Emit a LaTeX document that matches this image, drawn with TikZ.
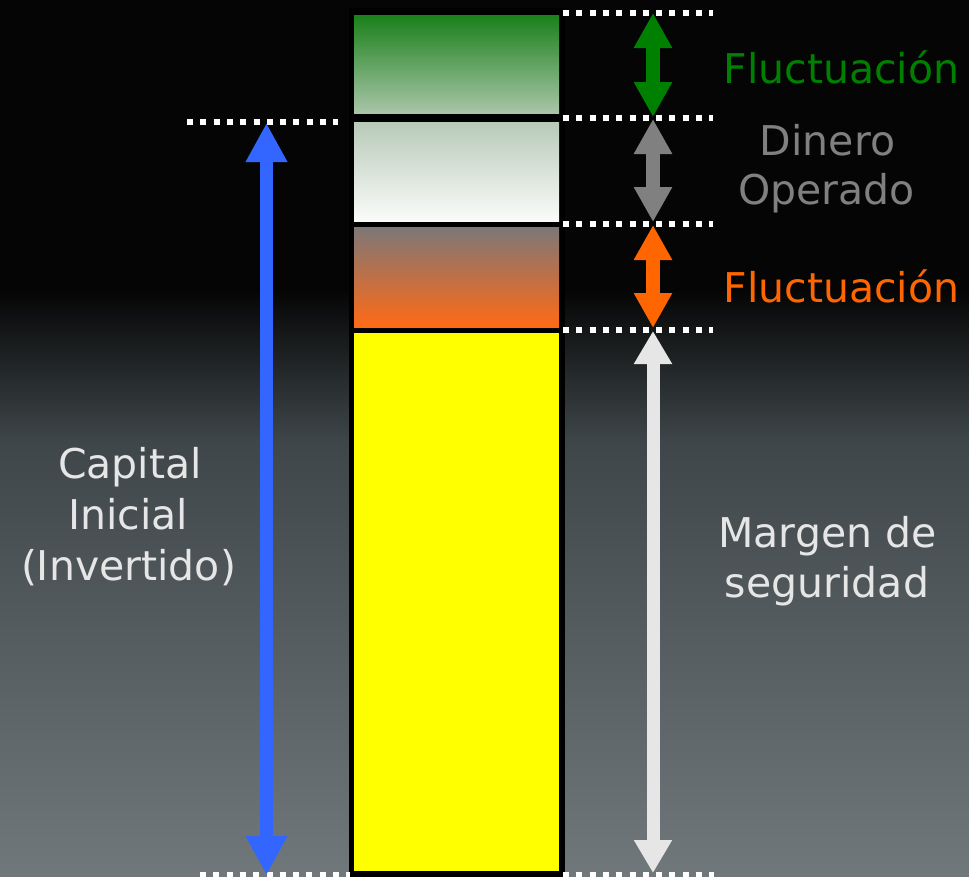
\documentclass[tikz,border=0pt]{standalone}
\usepackage{fontspec}
\setmainfont{DejaVu Sans}
\usetikzlibrary{arrows.meta}
\definecolor{bgtop}{HTML}{050505}
\definecolor{bgmid}{HTML}{3E4649}
\definecolor{bgbot}{HTML}{70787B}
\definecolor{fgreen}{HTML}{008000}
\definecolor{forange}{HTML}{FF6600}
\definecolor{fgray}{HTML}{808080}
\definecolor{flight}{HTML}{E6E6E6}
\definecolor{fblue}{HTML}{3366FF}
\definecolor{pureyellow}{HTML}{FFFF00}
\definecolor{gtop}{HTML}{1A801A}
\definecolor{gbot}{HTML}{A9C5A9}
\definecolor{wtop}{HTML}{B8CAB8}
\definecolor{wbot}{HTML}{FBFBFB}
\definecolor{otop}{HTML}{7D7777}
\definecolor{obot}{HTML}{FF6A16}
\begin{document}
\begin{tikzpicture}[x=1bp,y=-1bp,
  bar/.style={rectangle, inner sep=0pt, outer sep=0pt, minimum width=205bp, anchor=north west},
  dots/.style={white, line width=6bp, dash pattern=on 6bp off 7.3bp},
  dbl/.style={line width=14bp, {Triangle[width=36bp,length=35bp]}-{Triangle[width=36bp,length=35bp]}},
  lbl/.style={inner sep=0pt, anchor=base, font=\fontsize{41bp}{50bp}\selectfont}
]
% background
\useasboundingbox (0,0) rectangle (969,877);
\fill[bgtop] (0,0) rectangle (969,291);
\shade[top color=bgtop, bottom color=bgmid] (0,290) rectangle (969,441);
\shade[top color=bgmid, bottom color=bgbot] (0,440) rectangle (969,877);

% column
\fill[black] (349,8) rectangle (565,877);
\node[bar, minimum height=98bp, top color=gtop, bottom color=gbot] (green) at (354,15) {};
\node[bar, minimum height=99bp, top color=wtop, bottom color=wbot] (white) at (354,122) {};
\node[bar, minimum height=100bp, top color=otop, bottom color=obot] (orange) at (354,227) {};
\node[bar, minimum height=538bp, fill=pureyellow] (yellow) at (354,333) {};

% level coordinates
\coordinate (r0a) at (563,12.5);  \coordinate (r0b) at (713,12.5);
\coordinate (r1a) at (563,118);   \coordinate (r1b) at (713,118);
\coordinate (r2a) at (563,224);   \coordinate (r2b) at (713,224);
\coordinate (r3a) at (563,330);   \coordinate (r3b) at (713,330);
\coordinate (r4a) at (563,875);   \coordinate (r4b) at (714,875);
\coordinate (l1a) at (187,122);   \coordinate (l1b) at (338,122);
\coordinate (l4a) at (200,875);   \coordinate (l4b) at (350,875);

\draw[dots] (r0a) -- (r0b);
\draw[dots] (r1a) -- (r1b);
\draw[dots] (r2a) -- (r2b);
\draw[dots] (r3a) -- (r3b);
\draw[dots] (r4a) -- (r4b);
\draw[dots] (l1a) -- (l1b);
\draw[dots] (l4a) -- (l4b);

% arrows
\coordinate (ga) at (653,13);  \coordinate (gb) at (653,117);
\coordinate (da) at (653,119); \coordinate (db) at (653,222);
\coordinate (oa) at (653,225); \coordinate (ob) at (653,328);
\coordinate (ma) at (653,331); \coordinate (mb) at (653,873);
\coordinate (ca) at (266.5,123); \coordinate (cb) at (266.5,875);
\draw[dbl, fgreen] (ga) -- (gb);
\draw[dbl, fgray] (da) -- (db);
\draw[dbl, forange] (oa) -- (ob);
\draw[flight, line width=13bp, {Triangle[width=36bp,length=33bp]}-{Triangle[width=36bp,length=33bp]}] (ma) -- (mb);
\draw[fblue, line width=13bp, {Triangle[width=39bp,length=39bp]}-{Triangle[width=39bp,length=39bp]}] (ca) -- (cb);

% labels
\node[lbl, text=fgreen] (fl1) at (841.5,83) {Fluctuación};
\node[lbl, text=fgray] (din) at (827.5,155) {Dinero};
\node[lbl, text=fgray] (ope) at (826.5,204) {Operado};
\node[lbl, text=forange] (fl2) at (841.5,302) {Fluctuación};

\node[lbl, text=flight] (mar) at (827.5,547) {Margen de};
\node[lbl, text=flight] (seg) at (827,597) {seguridad};

\node[lbl, text=flight] (cap) at (130,478) {Capital};
\node[lbl, text=flight] (ini) at (128,529) {Inicial};
\node[lbl, text=flight] (inv) at (128.5,580) {(Invertido)};
\end{tikzpicture}
\end{document}
